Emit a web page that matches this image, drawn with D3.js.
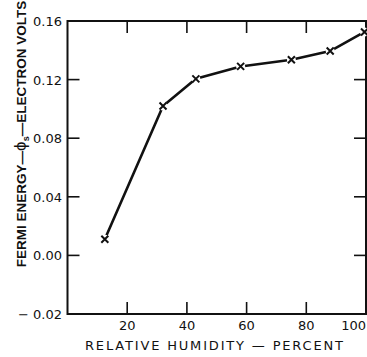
<!DOCTYPE html>
<html><head><meta charset="utf-8">
<script src="https://cdn.jsdelivr.net/npm/d3@7"></script>
<style>body{margin:0;background:#fff}svg{display:block}text{font-family:"DejaVu Sans",sans-serif;fill:#111}</style>
</head><body><svg id="c" width="367" height="357"></svg>
<script>
const humidity = [12.5, 32, 43, 58, 75, 88, 99.5];
const fermiEnergy = [0.011, 0.102, 0.1205, 0.129, 0.1335, 0.1395, 0.1525];
const xTicks = [20, 40, 60, 80, 100];
const yTicks = [-0.04, 0.00, 0.04, 0.08, 0.12, 0.16];
const yTickLabels = ["\u2212 0.02", "0.00", "0.04", "0.08", "0.12", "0.16"];

const svg = d3.select("#c");
const L = 67.5, R = 366, T = 21, B = 314;
const x = d3.scaleLinear().domain([0, 100]).range([L, R]);
const y = d3.scaleLinear().domain([-0.04, 0.16]).range([B, T]);
const ink = "#111";

// frame
svg.append("rect").attr("x", L).attr("y", T).attr("width", R - L).attr("height", B - T)
  .attr("fill", "none").attr("stroke", ink).attr("stroke-width", 2);

// inward ticks
const tl = 12;
const xt = xTicks.filter(d => d < 100);
svg.append("g").selectAll("line").data(xt).join("line")
  .attr("x1", d => x(d)).attr("x2", d => x(d)).attr("y1", B).attr("y2", B - tl)
  .attr("stroke", ink).attr("stroke-width", 1.6);
svg.append("g").selectAll("line").data(xt).join("line")
  .attr("x1", d => x(d)).attr("x2", d => x(d)).attr("y1", T).attr("y2", T + tl)
  .attr("stroke", ink).attr("stroke-width", 1.6);
const yt = yTicks.filter(d => d > -0.04 && d < 0.16);
svg.append("g").selectAll("line").data(yt).join("line")
  .attr("x1", L).attr("x2", L + tl).attr("y1", d => y(d)).attr("y2", d => y(d))
  .attr("stroke", ink).attr("stroke-width", 1.6);
svg.append("g").selectAll("line").data(yt).join("line")
  .attr("x1", R - tl).attr("x2", R).attr("y1", d => y(d)).attr("y2", d => y(d))
  .attr("stroke", ink).attr("stroke-width", 1.6);

// tick labels
svg.append("g").selectAll("text").data(xTicks).join("text")
  .attr("x", d => d === 100 ? x(d) : x(d)).attr("y", 330)
  .attr("text-anchor", d => d === 100 ? "end" : "middle")
  .attr("font-size", 13).text(d => d);
svg.append("g").selectAll("text").data(yTicks).join("text")
  .attr("x", 62).attr("y", d => y(d) + 5).attr("text-anchor", "end")
  .attr("font-size", 13).text((d, i) => yTickLabels[i]);

// axis titles
svg.append("text").attr("x", 214).attr("y", 350).attr("text-anchor", "middle")
  .attr("font-size", 13).attr("textLength", 258).attr("lengthAdjust", "spacing")
  .text("RELATIVE HUMIDITY \u2014 PERCENT");
const yt2 = svg.append("text").attr("transform", "translate(26,134) rotate(-90)")
  .attr("text-anchor", "middle").attr("font-size", 13.5)
  .style("font-family", "'Liberation Sans', Arial, sans-serif").attr("font-weight", "bold");
yt2.append("tspan").text("FERMI ENERGY\u2014");
yt2.append("tspan").attr("font-size", 17).attr("font-weight", "normal").text("\u03d5");
yt2.append("tspan").attr("font-size", 9).attr("dy", 3).text("s");
yt2.append("tspan").attr("dy", -3).text("\u2014ELECTRON VOLTS");

// data line
const pts = humidity.map((h, i) => [h, fermiEnergy[i]]);
svg.append("path").datum(pts)
  .attr("d", d3.line().x(d => x(d[0])).y(d => y(d[1])))
  .attr("fill", "none").attr("stroke", ink).attr("stroke-width", 2.6).attr("stroke-linejoin", "round");

// x markers
const m = svg.append("g").selectAll("g").data(pts).join("g")
  .attr("transform", d => `translate(${x(d[0])},${y(d[1])})`);
m.append("circle").attr("r", 4.5).attr("fill", "#fff");
m.append("path").attr("d", "M-3.5,-3.5L3.5,3.5M3.5,-3.5L-3.5,3.5")
  .attr("stroke", ink).attr("stroke-width", 2);
</script></body></html>
